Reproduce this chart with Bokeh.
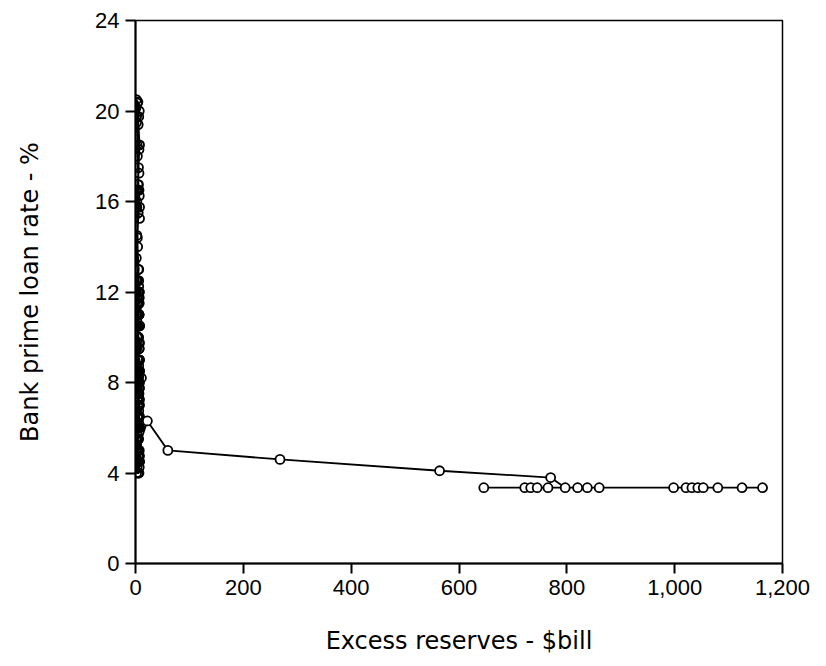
from bokeh.plotting import figure
from bokeh.models import Range1d, FixedTicker, NumeralTickFormatter
from bokeh.embed import file_html
from bokeh.resources import INLINE

# --- data read from the picture (observation order) ---
# dense vertical band near zero excess reserves
band_y = [4.0, 4.5, 4.5, 5.0, 4.5, 4.5, 4.5, 4.5, 4.5, 4.5, 4.5, 4.75,
          5.0, 5.5, 6.0, 5.75, 5.5, 6.0, 6.5, 6.25, 7.0, 7.5, 8.5, 8.5,
          8.5, 8.0, 7.5, 6.75, 6.0, 5.5, 5.25, 5.0, 5.5, 6.0,
          6.25, 7.0, 8.5, 9.75, 10.0, 9.75, 9.5, 10.0, 11.0, 12.0, 11.75, 11.0, 10.5,
          9.5, 7.5, 7.25, 7.75, 7.5, 7.0, 6.25, 6.5, 6.75, 7.25, 7.75,
          8.0, 8.5, 9.0, 9.75, 10.5, 11.5, 11.75, 11.75, 12.0, 13.0, 14.5, 15.5, 15.25,
          15.75, 16.75, 18.3, 19.75, 17.5, 12.5, 11.5, 11.25, 12.25, 14.0, 16.0, 18.5, 20.35,
          20.15, 19.4, 18.0, 17.25, 19.5, 20.0, 20.4, 20.5, 19.75, 18.5, 16.75, 15.75,
          15.75, 16.5, 16.5, 16.5, 16.5, 16.5, 16.25, 14.4, 13.5, 12.5, 12.0, 11.5,
          11.0, 10.5, 10.5, 11.0, 11.0, 11.0, 11.5, 12.0, 12.5, 13.0, 12.5, 11.75, 10.75, 10.5, 10.0, 9.5,
          9.5, 8.5, 7.5, 7.5, 8.0, 8.75, 9.0, 8.75, 8.5, 9.0, 9.5, 10.5, 11.5, 11.0, 10.5,
          10.0, 10.0, 9.5, 8.5, 7.5, 6.5, 6.0, 6.0,
          6.0, 7.0, 7.75, 8.5, 8.75, 9.0, 8.5, 8.25, 8.25, 8.5, 8.5, 8.0, 7.75, 8.0, 8.5, 9.0, 9.5,
          9.0, 8.0, 7.25, 6.75, 6.5, 5.5, 5.0, 4.75,
          4.75, 4.75, 4.25, 4.0, 4.0, 4.25, 4.5, 5.0,
          5.5, 6.0, 6.5, 7.0, 7.5, 8.0, 8.25, 8.2, 8.25, 7.75, 7.5, 6.0, 5.25, 5.0, 5.0]
band_x = [5.0, 2.0, 6.5, 1.0, 4.0, 7.5, 2.5, 5.5, 1.5, 7.0, 3.0, 6.0,
          4.5, 1.0, 7.5, 2.5, 5.5, 3.5, 7.0, 1.5, 4.5, 6.5, 2.0, 5.0,
          7.5, 1.0, 4.0, 6.0, 2.5, 5.5, 1.5, 7.0, 3.5, 6.5,
          1.0, 5.0, 7.5, 2.0, 4.5, 6.0, 1.5, 5.5, 3.0, 7.0, 2.5, 6.5, 4.0,
          1.0, 5.5, 7.5, 2.0, 4.5, 6.0, 3.0, 7.0, 1.5, 5.0, 2.5,
          6.5, 1.0, 4.0, 7.5, 2.0, 5.5, 3.5, 7.0, 1.5, 6.0, 2.5, 5.0, 7.5,
          1.0, 4.5, 6.5, 2.0, 5.5, 3.0, 7.0, 1.5, 6.0, 4.0, 2.5, 7.5, 3.5,
          1.0, 5.0, 3.5, 6.5, 2.0, 7.0, 4.5, 1.5, 6.0, 3.0, 5.5, 2.5,
          7.5, 1.0, 4.0, 6.5, 2.0, 5.0, 7.0, 3.5, 1.5, 6.0, 4.5, 2.5,
          5.5, 1.0, 7.5, 3.0, 6.5, 2.0, 4.5, 7.0, 1.5, 5.0, 3.5, 6.0, 2.5, 7.5, 4.0, 1.0,
          6.5, 2.0, 5.5, 3.0, 7.0, 1.5, 4.5, 6.0, 2.5, 7.5, 1.0, 5.0, 3.5, 6.5, 2.0,
          5.5, 3.0, 7.0, 1.5, 6.0, 4.0, 2.5, 7.5,
          1.0, 5.0, 3.5, 6.5, 2.0, 7.0, 4.5, 1.5, 6.0, 3.0, 5.5, 2.5, 7.5, 1.0, 4.0, 6.5, 2.0,
          5.0, 7.0, 3.5, 1.5, 6.0, 4.5, 2.5, 7.5,
          1.0, 5.5, 3.0, 6.5, 2.0, 7.0, 4.0, 5.0,
          1.5, 6.0, 3.5, 7.5, 2.5, 5.5, 4.5, 11.0, 1.0, 6.5, 3.0, 7.0, 2.0, 5.0, 4.0]
# the points after the band
late_x = [22, 60, 268, 564, 770, 797, 646, 722, 733, 745, 765, 820, 838, 860,
          998, 1021, 1032, 1043, 1053, 1080, 1125, 1163]
late_y = [6.3, 5.0, 4.6, 4.1, 3.8, 3.35, 3.35, 3.35, 3.35, 3.35, 3.35, 3.35, 3.35, 3.35,
          3.35, 3.35, 3.35, 3.35, 3.35, 3.35, 3.35, 3.35]
x_ticks = [0, 200, 400, 600, 800, 1000, 1200]
y_ticks = [0, 4, 8, 12, 16, 20, 24]

assert len(band_x) == len(band_y) and len(late_x) == len(late_y)
xs = band_x + late_x
ys = band_y + late_y

FONT = "Liberation Sans"
LABEL_FONT = "DejaVu Sans"

p = figure(width=818, height=658, output_backend="svg", toolbar_location=None,
           x_range=Range1d(0, 1200), y_range=Range1d(0, 24),
           min_border_left=135, min_border_right=36, min_border_top=20, min_border_bottom=95)
p.background_fill_color = "white"
p.border_fill_color = "white"
p.outline_line_color = "black"
p.outline_line_width = 1.5
p.xgrid.visible = False
p.ygrid.visible = False

p.line(xs, ys, line_color="black", line_width=1.8)
# band circles: densely stacked open rings; later circles: white-filled
p.scatter(band_x, band_y, marker="circle", size=9, fill_color=None,
          line_color="black", line_width=1.8)
p.scatter(late_x, late_y, marker="circle", size=9, fill_color="white",
          line_color="black", line_width=1.8)

for ax in (p.xaxis[0], p.yaxis[0]):
    ax.axis_line_width = 2
    ax.axis_line_color = "black"
    ax.major_tick_line_width = 2
    ax.major_tick_line_color = "black"
    ax.major_tick_in = 0
    ax.major_tick_out = 10
    ax.minor_tick_line_color = None
    ax.major_label_text_font = FONT
    ax.major_label_text_font_size = "22px"
    ax.major_label_text_color = "black"
    ax.axis_label_text_font = LABEL_FONT
    ax.axis_label_text_font_size = "24px"
    ax.axis_label_text_font_style = "normal"
    ax.axis_label_text_color = "black"
    ax.major_label_standoff = 6

p.xaxis.ticker = FixedTicker(ticks=x_ticks)
p.yaxis.ticker = FixedTicker(ticks=y_ticks)
p.xaxis.formatter = NumeralTickFormatter(format="0,0")
p.xaxis.axis_label = "Excess reserves - $bill"
p.yaxis.axis_label = "Bank prime loan rate - %"
p.xaxis.axis_label_standoff = 29
p.yaxis.axis_label_standoff = 48

open("out.html", "w").write(file_html(p, INLINE))
